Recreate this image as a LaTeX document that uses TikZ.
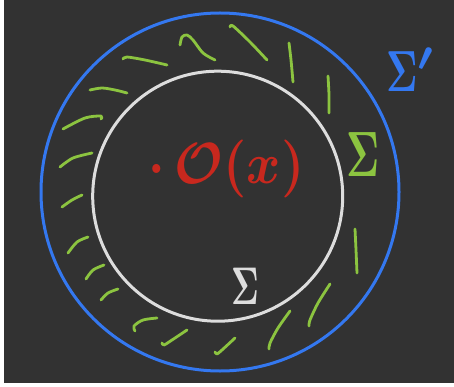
\documentclass[tikz,border=0pt]{standalone}
\usepackage{graphicx}
\definecolor{bgdark}{HTML}{323232}
\definecolor{penblue}{HTML}{3478F0}
\definecolor{pengreen}{HTML}{8CC440}
\definecolor{penwhite}{HTML}{DDDDDD}
\definecolor{penred}{HTML}{C8281E}
\tikzset{
  hatch/.style={pengreen, line width=2.8pt, line cap=round, line join=round},
  ring/.style={line width=3pt},
  lbl/.style={inner sep=0pt, anchor=base, font=\boldmath}
}
\begin{document}
\begin{tikzpicture}[x=1pt,y=-1pt]
\useasboundingbox (0,0) rectangle (454,387);
\fill[white] (0,0) rectangle (454,387);
\fill[bgdark] (4,0) rectangle (454,382.5);
% circles
\node[draw=penblue, ring, circle, minimum size=358pt, inner sep=0pt] (outer) at (220,192) {};
\node[draw=penwhite, ring, circle, minimum size=250pt, inner sep=0pt] (inner) at (217.7,196.2) {};
% green hatch strokes
\draw[hatch] plot[smooth] coordinates {(123,59) (127,57) (145,60) (167,65)};
\draw[hatch] plot[smooth] coordinates {(180,45) (182,37) (187,35) (193,40) (203,53) (215,60)};
\draw[hatch] plot[smooth] coordinates {(230,27) (233,26) (250,42) (267,60)};
\draw[hatch] plot[smooth] coordinates {(289,43) (291,60) (293,82)};
\draw[hatch] plot[smooth] coordinates {(328,76) (329,95) (329,113)};
\draw[hatch] plot[smooth] coordinates {(355,229) (356,250) (357,273)};
\draw[hatch] plot[smooth] coordinates {(330,284) (318,303) (310,320) (309,326)};
\draw[hatch] plot[smooth] coordinates {(290,311) (278,328) (270,343) (269,349)};
\draw[hatch] plot[smooth] coordinates {(235,338) (222,350) (217,354) (215,352)};
\draw[hatch] plot[smooth] coordinates {(187,330) (172,340) (164,345) (162,343)};
\draw[hatch] plot[smooth] coordinates {(157,318) (143,320) (134,326) (135,331)};
\draw[hatch] plot[smooth] coordinates {(118,289) (108,293) (101,300)};
\draw[hatch] plot[smooth] coordinates {(104,265) (93,270) (86,279)};
\draw[hatch] plot[smooth] coordinates {(88,237) (77,242) (68,253)};
\draw[hatch] plot[smooth] coordinates {(82,195) (72,200) (62,207)};
\draw[hatch] plot[smooth] coordinates {(92,153) (73,158) (60,167)};
\draw[hatch] plot[smooth] coordinates {(101,119) (101,116) (85,118) (63,129)};
\draw[hatch] plot[smooth] coordinates {(90,90) (102,88) (115,90) (127,93)};
% labels
\node[lbl, penred, anchor=base west] (op) at (148,184) {\scalebox{5.2}[5.8]{$\cdot\,\mathcal{O}(x)$}};
\node[lbl, pengreen] (sigg) at (363.5,177) {\scalebox{4.0}[6.4]{$\Sigma$}};
\node[lbl, penwhite] (sigw) at (245,304) {\scalebox{3.35}[5.3]{$\Sigma$}};
\node[lbl, penblue, anchor=base west] (sigb) at (386,92) {\scalebox{3.8}[5.8]{$\Sigma$}\scalebox{5.8}{$^\prime$}};
\end{tikzpicture}
\end{document}
